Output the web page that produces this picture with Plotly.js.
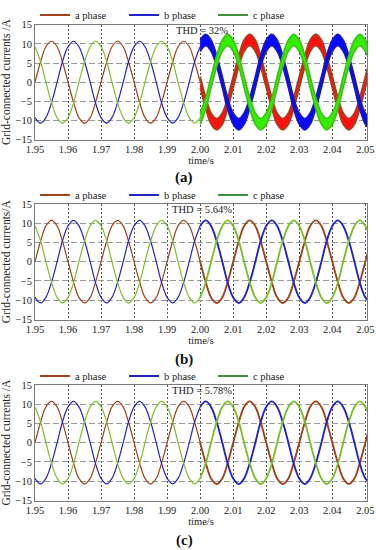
<!DOCTYPE html>
<html>
<head>
<meta charset="utf-8">
<script src="https://cdn.plot.ly/plotly-3.0.1.min.js"></script>
<style>html,body{margin:0;padding:0;background:#fff;}#chart{width:376px;height:550px;}</style>
</head>
<body>
<div id="chart"></div>
<script>
// time samples (s)
const t = [1.9500,1.9517,1.9533,1.9550,1.9567,1.9583,1.9600,1.9617,1.9633,1.9650,1.9667,1.9683,
1.9700,1.9717,1.9733,1.9750,1.9767,1.9783,1.9800,1.9817,1.9833,1.9850,1.9867,1.9883,
1.9900,1.9917,1.9933,1.9950,1.9967,1.9983,2.0000,2.0017,2.0033,2.0050,2.0067,2.0083,
2.0100,2.0117,2.0133,2.0150,2.0167,2.0183,2.0200,2.0217,2.0233,2.0250,2.0267,2.0283,
2.0300,2.0317,2.0333,2.0350,2.0367,2.0383,2.0400,2.0417,2.0433,2.0450,2.0467,2.0483,
2.0500,2.0517];

// phase currents (A)
const aPhase = [0,5.35,9.27,10.7,9.27,5.35,0,-5.35,-9.27,-10.7,-9.27,-5.35,
0,5.35,9.27,10.7,9.27,5.35,0,-5.35,-9.27,-10.7,-9.27,-5.35,
0,5.35,9.27,10.7,9.27,5.35,0,-5.35,-9.27,-10.7,-9.27,-5.35,
0,5.35,9.27,10.7,9.27,5.35,0,-5.35,-9.27,-10.7,-9.27,-5.35,
0,5.35,9.27,10.7,9.27,5.35,0,-5.35,-9.27,-10.7,-9.27,-5.35,
0,5.35];
const bPhase = [-9.27,-10.7,-9.27,-5.35,0,5.35,9.27,10.7,9.27,5.35,0,-5.35,
-9.27,-10.7,-9.27,-5.35,0,5.35,9.27,10.7,9.27,5.35,0,-5.35,
-9.27,-10.7,-9.27,-5.35,0,5.35,9.27,10.7,9.27,5.35,0,-5.35,
-9.27,-10.7,-9.27,-5.35,0,5.35,9.27,10.7,9.27,5.35,0,-5.35,
-9.27,-10.7,-9.27,-5.35,0,5.35,9.27,10.7,9.27,5.35,0,-5.35,
-9.27,-10.7];
const cPhase = [9.27,5.35,0,-5.35,-9.27,-10.7,-9.27,-5.35,0,5.35,9.27,10.7,
9.27,5.35,0,-5.35,-9.27,-10.7,-9.27,-5.35,0,5.35,9.27,10.7,
9.27,5.35,0,-5.35,-9.27,-10.7,-9.27,-5.35,0,5.35,9.27,10.7,
9.27,5.35,0,-5.35,-9.27,-10.7,-9.27,-5.35,0,5.35,9.27,10.7,
9.27,5.35,0,-5.35,-9.27,-10.7,-9.27,-5.35,0,5.35,9.27,10.7,
9.27,5.35];

// panel (a) after 2.00 s: ripple band edges (upper / lower), from t = 2.0000
const aUpperA = [1.5,-4.0,-8.03,-9.5,-8.03,-4.0,1.5,7.0,11.03,12.5,11.03,7.0,
1.5,-4.0,-8.03,-9.5,-8.03,-4.0,1.5,7.0,11.03,12.5,11.03,7.0,
1.5,-4.0,-8.03,-9.5,-8.03,-4.0,1.5,7.0];
const aLowerA = [-1.5,-7.0,-11.03,-12.5,-11.03,-7.0,-1.5,4.0,8.03,9.5,8.03,4.0,
-1.5,-7.0,-11.03,-12.5,-11.03,-7.0,-1.5,4.0,8.03,9.5,8.03,4.0,
-1.5,-7.0,-11.03,-12.5,-11.03,-7.0,-1.5,4.0];
const bUpperA = [11.03,12.5,11.03,7.0,1.5,-4.0,-8.03,-9.5,-8.03,-4.0,1.5,7.0,
11.03,12.5,11.03,7.0,1.5,-4.0,-8.03,-9.5,-8.03,-4.0,1.5,7.0,
11.03,12.5,11.03,7.0,1.5,-4.0,-8.03,-9.5];
const bLowerA = [8.03,9.5,8.03,4.0,-1.5,-7.0,-11.03,-12.5,-11.03,-7.0,-1.5,4.0,
8.03,9.5,8.03,4.0,-1.5,-7.0,-11.03,-12.5,-11.03,-7.0,-1.5,4.0,
8.03,9.5,8.03,4.0,-1.5,-7.0,-11.03,-12.5];
const cUpperA = [-8.03,-4.0,1.5,7.0,11.03,12.5,11.03,7.0,1.5,-4.0,-8.03,-9.5,
-8.03,-4.0,1.5,7.0,11.03,12.5,11.03,7.0,1.5,-4.0,-8.03,-9.5,
-8.03,-4.0,1.5,7.0,11.03,12.5,11.03,7.0];
const cLowerA = [-11.03,-7.0,-1.5,4.0,8.03,9.5,8.03,4.0,-1.5,-7.0,-11.03,-12.5,
-11.03,-7.0,-1.5,4.0,8.03,9.5,8.03,4.0,-1.5,-7.0,-11.03,-12.5,
-11.03,-7.0,-1.5,4.0,8.03,9.5,8.03,4.0];

const seriesNames = ['a phase','b phase','c phase'];
const thdLabels = ['THD = 32%','THD = 5.64%','THD = 5.78%'];
const panelLabels = ['(a)','(b)','(c)'];
const yTitles = ['Grid-connected currents /A','Grid-connected currents/A','Grid-connected currents /A'];
const xTicks = [1.95,1.96,1.97,1.98,1.99,2.00,2.01,2.02,2.03,2.04,2.05];
const xTickLabels = ['1.95','1.96','1.97','1.98','1.99','2.00','2.01','2.02','2.03','2.04','2.05'];
const yTicks = [-15,-10,-5,0,5,10,15];
const switchIndex = 30; // t = 2.00 s

const FONT = 'Liberation Serif, Times New Roman, serif';
const lineCol = ['#a0421c','#2323c8','#7cbf2c'];
const legCol = ['#a0421c','#2323c8','#3d8f3d'];
const bandFill = ['#ff1010','#0808ff','#33ee00'];
const bandEdge = ['#a0421c','#1a1ab4','#3cc014'];
const phases = [aPhase,bPhase,cPhase];

const traces = [];
const suffix = ['', '2', '3'];
const tPre = t.slice(0, switchIndex + 1);
const tPost = t.slice(switchIndex);

for (let p = 0; p < 3; p++) {
  const xa = 'x' + suffix[p], ya = 'y' + suffix[p];
  const leg = 'legend' + suffix[p];
  for (let s = 0; s < 3; s++) {
    traces.push({x:[null], y:[null], type:'scatter', mode:'lines', name:seriesNames[s],
      line:{color:legCol[s], width:2}, xaxis:xa, yaxis:ya, legend:leg, showlegend:true, hoverinfo:'skip'});
  }
  if (p === 0) {
    for (let s = 0; s < 3; s++) {
      traces.push({x:tPre, y:phases[s].slice(0, switchIndex + 1), type:'scatter', mode:'lines',
        line:{color:lineCol[s], width:1.2, shape:'spline'}, xaxis:xa, yaxis:ya, showlegend:false});
    }
    const ups = [aUpperA,bUpperA,cUpperA], lows = [aLowerA,bLowerA,cLowerA];
    for (let s = 0; s < 3; s++) {
      traces.push({x:tPost, y:ups[s], type:'scatter', mode:'lines',
        line:{color:bandEdge[s], width:1.6, shape:'spline'}, xaxis:xa, yaxis:ya, showlegend:false});
      traces.push({x:tPost, y:lows[s], type:'scatter', mode:'lines', fill:'tonexty', fillcolor:bandFill[s],
        line:{color:bandEdge[s], width:1.6, shape:'spline'}, xaxis:xa, yaxis:ya, showlegend:false});
    }
  } else {
    for (let s = 0; s < 3; s++) {
      traces.push({x:tPre, y:phases[s].slice(0, switchIndex + 1), type:'scatter', mode:'lines',
        line:{color:lineCol[s], width:1.2, shape:'spline'}, xaxis:xa, yaxis:ya, showlegend:false});
      traces.push({x:tPost, y:phases[s].slice(switchIndex), type:'scatter', mode:'lines',
        line:{color:lineCol[s], width:1.9, shape:'spline'}, xaxis:xa, yaxis:ya, showlegend:false});
    }
  }
}

const H = 550;
const tops = [19, 200, 383], bots = [135, 317, 500];
const legY = [9, 191, 374];
const labY = [173, 357, 540];
const xDom = [35/376, 367/376];

const layout = {
  width:376, height:550, margin:{l:0,r:0,t:0,b:0},
  paper_bgcolor:'#fff', plot_bgcolor:'#fff',
  font:{family:FONT, size:10.5, color:'#222'},
  showlegend:true,
  annotations:[]
};

for (let p = 0; p < 3; p++) {
  const xk = 'xaxis' + suffix[p], yk = 'yaxis' + suffix[p];
  layout[xk] = {
    domain:xDom, anchor:'y' + suffix[p], range:[1.95, 2.0505],
    tickvals:xTicks, ticktext:xTickLabels, ticks:'', showline:true, mirror:true,
    linecolor:'#7a7a7a', linewidth:1, showgrid:true, gridcolor:'#555', griddash:'2px,2px', gridwidth:1,
    zeroline:false, tickfont:{family:FONT, size:10.5, color:'#222'},
    title:{text:'time/s', font:{family:FONT, size:10.5, color:'#222'}, standoff:1}
  };
  layout[yk] = {
    domain:[1 - bots[p]/H, 1 - tops[p]/H], anchor:'x' + suffix[p], range:[-15, 15],
    tickvals:yTicks, ticks:'', showline:true, mirror:true, linecolor:'#7a7a7a', linewidth:1,
    showgrid:true, gridcolor:'#9a9a9a', griddash:'6px,3px', gridwidth:1, zeroline:false,
    tickfont:{family:FONT, size:10.5, color:'#222'},
    title:{text:yTitles[p], font:{family:FONT, size:11.5, color:'#222'}, standoff:4}
  };
  layout['legend' + suffix[p]] = {
    orientation:'h', traceorder:'normal', x:35/376, xanchor:'left', y:1 - legY[p]/H, yanchor:'middle',
    font:{family:FONT, size:10.5, color:'#222'}, bgcolor:'rgba(0,0,0,0)', borderwidth:0,
    entrywidth:44, entrywidthmode:'pixels',
    itemclick:false, itemdoubleclick:false, tracegroupgap:0
  };
  layout.annotations.push({
    xref:'x' + suffix[p], yref:'y' + suffix[p], x:2.0005, y:13.6, text:thdLabels[p],
    showarrow:false, xanchor:'center', yanchor:'middle', font:{family:FONT, size:10.5, color:'#222'}
  });
  layout.annotations.push({
    xref:'paper', yref:'paper', x:184/376, y:1 - labY[p]/H, text:'<b>' + panelLabels[p] + '</b>',
    showarrow:false, xanchor:'center', yanchor:'middle', font:{family:FONT, size:15, color:'#111'}
  });
}

Plotly.newPlot('chart', traces, layout, {displayModeBar:false, staticPlot:true});
</script>
</body>
</html>
